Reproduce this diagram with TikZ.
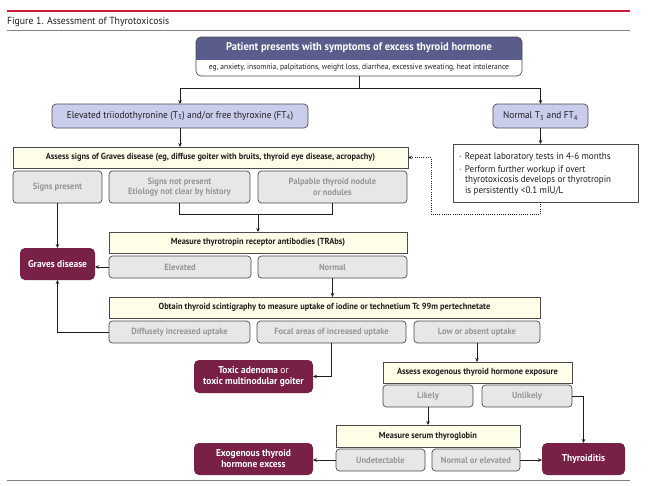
\documentclass[tikz,border=0pt]{standalone}
\usepackage{fontspec}
\setmainfont{PT Sans}[FakeStretch=0.95]
\usetikzlibrary{arrows.meta}
\definecolor{jred}{RGB}{200,30,60}
\definecolor{rulegray}{RGB}{130,130,130}
\definecolor{hdrc}{RGB}{90,92,140}
\definecolor{lavc}{RGB}{201,205,235}
\definecolor{yelc}{RGB}{253,253,232}
\definecolor{subc}{RGB}{231,231,233}
\definecolor{subtext}{RGB}{150,150,152}
\definecolor{bordc}{RGB}{75,75,78}
\definecolor{maroonc}{RGB}{120,32,70}
\definecolor{txtc}{RGB}{30,30,30}
\begin{document}
\begin{tikzpicture}[x=1pt,y=-1pt,
  every node/.style={inner sep=0pt, outer sep=0pt, align=center, text=txtc},
  lavbox/.style={draw=bordc, line width=0.7pt, fill=lavc, rounded corners=4pt, font=\fontsize{9.8}{11}\selectfont},
  stepbox/.style={draw=bordc, line width=0.7pt, fill=yelc, font=\bfseries\fontsize{8.8}{10}\selectfont},
  resbox/.style={draw=bordc, line width=0.7pt, fill=subc, rounded corners=3.5pt, text=subtext, font=\bfseries\fontsize{9}{10.3}\selectfont},
  outbox/.style={fill=maroonc, rounded corners=5pt, text=white, font=\bfseries\fontsize{9.9}{11}\selectfont},
  noteframe/.style={draw=bordc, line width=0.7pt, fill=white},
  conn/.style={draw=txtc, line width=0.7pt},
  arr/.style={conn, -{Stealth[length=4pt,width=3.5pt]}},
  dotconn/.style={draw=txtc, line width=0.7pt, dash pattern=on 0.9pt off 1.3pt, -{Stealth[length=4pt,width=3.5pt]}}
]
\useasboundingbox (0,0) rectangle (648,485);
% header rules and title
\draw[jred, line width=1.6pt] (7,10.7) -- (630,10.7);
\node[anchor=base west, font=\fontsize{10.3}{12}\selectfont] (title) at (7,24.5) {Figure 1. Assessment of Thyrotoxicosis};
\draw[rulegray, line width=1.3pt] (7,30.5) -- (630,30.5);
\draw[rulegray, line width=1.3pt] (7,480.5) -- (630,480.5);

% top box
\begin{scope}
  \clip (196,37) rectangle (522,59);
  \fill[hdrc, rounded corners=5pt] (196,37) rectangle (522,76);
\end{scope}
\node[draw=bordc, line width=0.7pt, rounded corners=5pt, minimum width=326pt, minimum height=39pt] (top) at (359,56.5) {};
\node[text=white, font=\bfseries\fontsize{11.1}{12}\selectfont] (tophd) at (359,48) {Patient presents with symptoms of excess thyroid hormone};
\node[font=\fontsize{7.9}{9}\selectfont] (topsub) at (359,67.5) {eg, anxiety, insomnia, palpitations, weight loss, diarrhea, excessive sweating, heat intolerance};

% second row
\node[lavbox, minimum width=256pt, minimum height=24pt] (elev) at (180,116) {Elevated triiodothyronine (T\textsubscript{3}) and/or free thyroxine (FT\textsubscript{4})};
\node[lavbox, minimum width=95pt, minimum height=24pt] (normal) at (540.5,116) {Normal T\textsubscript{3} and FT\textsubscript{4}};
\coordinate (j1) at (359,88);
\draw[conn] (top.south) -- (j1);
\draw[arr] (j1) -| (elev.north);
\draw[arr] (j1) -| (normal.north);

% note box
\node[noteframe, minimum width=185pt, minimum height=58pt] (rep) at (545.5,173) {};
\node[anchor=west, align=left, font=\fontsize{9.5}{10.6}\selectfont] (reptext) at (459,174) {\makebox[6pt][l]{·}Repeat laboratory tests in 4-6 months\\[2pt]\makebox[6pt][l]{·}Perform further workup if overt\\\hspace*{6pt}thyrotoxicosis develops or thyrotropin\\\hspace*{6pt}is persistently <0.1 mIU/L};
\draw[arr] (normal.south) -- (normal.south |- rep.north);

% assess Graves
\node[stepbox, minimum width=395pt, minimum height=21pt] (assess1) at (210.5,157.5) {Assess signs of Graves disease (eg, diffuse goiter with bruits, thyroid eye disease, acropachy)};
\draw[arr] (elev.south) -- (elev.south |- assess1.north);
\coordinate (dl) at (431,214);
\draw[dotconn] (normal.south |- rep.south) |- (dl) |- (assess1.east);

\node[resbox, minimum width=89pt, minimum height=32pt] (sp) at (57.5,187) {Signs present};
\node[resbox, minimum width=141pt, minimum height=32pt] (snp) at (179.5,187) {Signs not present\\Etiology not clear by history};
\node[resbox, minimum width=149pt, minimum height=32pt] (pal) at (332.5,187) {Palpable thyroid nodule\\or nodules};

% TRAbs
\node[stepbox, minimum width=298pt, minimum height=21pt] (trabs) at (258,242.5) {Measure thyrotropin receptor antibodies (TRAbs)};
\node[resbox, minimum width=142pt, minimum height=22pt] (elev2) at (180,267) {Elevated};
\node[resbox, minimum width=149pt, minimum height=22pt] (norm2) at (332.5,267) {Normal};
\coordinate (j2) at (258,214);
\draw[conn] (snp.south) -- (snp.south |- j2) -- (pal.south |- j2) -- (pal.south);
\draw[arr] (j2) -- (trabs.north);

\node[outbox, minimum width=75pt, minimum height=32pt] (graves) at (57.5,264) {Graves disease};
\draw[arr] (sp.south) -- (graves.north);
\draw[arr] (elev2.west) -- (elev2.west -| graves.east);

% scintigraphy
\node[stepbox, minimum width=431pt, minimum height=21pt] (scint) at (324.5,307.5) {Obtain thyroid scintigraphy to measure uptake of iodine or technetium Tc 99m pertechnetate};
\draw[arr] (norm2.south) -- (norm2.south |- scint.north);
\node[resbox, minimum width=141pt, minimum height=22pt] (diff) at (179.5,332) {Diffusely increased uptake};
\node[resbox, minimum width=149pt, minimum height=22pt] (focal) at (331.5,332) {Focal areas of increased uptake};
\node[resbox, minimum width=126pt, minimum height=22pt] (low) at (477,332) {Low or absent uptake};
\draw[arr] (diff.west) -| (graves.south);

\node[outbox, minimum width=119pt, minimum height=33pt] (toxic) at (253.5,376.5) {Toxic adenoma {\mdseries or}\\toxic multinodular goiter};
\draw[arr] (focal.south) |- (toxic.east);

% exogenous
\node[stepbox, minimum width=189pt, minimum height=21pt] (exo) at (477.5,372.5) {Assess exogenous thyroid hormone exposure};
\draw[arr] (low.south) -- (low.south |- exo.north);
\node[resbox, minimum width=90pt, minimum height=22pt] (likely) at (428,396) {Likely};
\node[resbox, minimum width=90pt, minimum height=22pt] (unlikely) at (527,396) {Unlikely};

% thyroglobin
\node[stepbox, minimum width=184pt, minimum height=22pt] (tg) at (428,436) {Measure serum thyroglobin};
\draw[arr] (likely.south) -- (likely.south |- tg.north);
\node[resbox, minimum width=89pt, minimum height=22pt] (undet) at (380.5,460) {Undetectable};
\node[resbox, minimum width=88pt, minimum height=22pt] (normel) at (476,460) {Normal or elevated};

\node[outbox, minimum width=119pt, minimum height=32pt] (exog) at (253.5,459) {Exogenous thyroid\\hormone excess};
\node[outbox, minimum width=83pt, minimum height=32pt] (thy) at (583.5,459) {Thyroiditis};
\draw[arr] (unlikely.east) -| (thy.north);
\draw[arr] (undet.west) -- (undet.west -| exog.east);
\draw[arr] (normel.east) -- (normel.east -| thy.west);
\end{tikzpicture}
\end{document}
